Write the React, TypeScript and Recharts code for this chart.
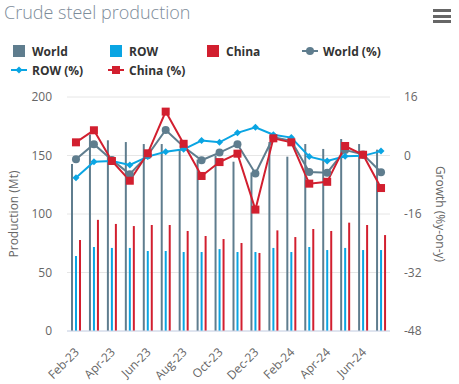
import { ComposedChart, Bar, Line, XAxis, YAxis, CartesianGrid } from "recharts";

const months = [
	"Feb-23", "Mar-23", "Apr-23", "May-23", "Jun-23", "Jul-23", "Aug-23", "Sep-23", "Oct-23",
	"Nov-23", "Dec-23", "Jan-24", "Feb-24", "Mar-24", "Apr-24", "May-24", "Jun-24", "Jul-24",
];
const world = [142.7, 168, 163, 161.5, 159.8, 159.8, 154.7, 146.5, 150, 144.7, 135.5, 161.5, 149, 159.8, 155.6, 164.1, 159.8, 155];
const row = [64, 71.8, 71, 71, 68.4, 68.4, 67.5, 67.5, 70, 67.5, 67.5, 71, 67.5, 71.8, 69.2, 71, 69.2, 69.2];
const china = [77.8, 95, 91.5, 89.7, 90.6, 90.6, 85.5, 81.2, 78.6, 75.2, 66.7, 86, 80.3, 87.2, 85.5, 92.6, 90.6, 82];
const worldPct = [-1, 3.1, -1.2, -5.1, 0.1, 7.0, 2.4, -1.3, 0.8, 3.1, -4.9, 5.0, 4.0, -4.5, -4.7, 1.5, 0.3, -4.6];
const rowPct = [-6.1, -1.7, -1.5, -2.6, -0.3, 1.0, 1.7, 4.1, 3.6, 6.2, 7.7, 5.7, 4.9, -0.3, -1.5, -0.2, -0.1, 1.2];
const chinaPct = [3.6, 6.9, -1.5, -6.9, 0.6, 12.0, 3.2, -5.6, -1.8, 0.5, -14.8, 4.7, 3.6, -7.7, -7.2, 2.6, 0.2, -8.9];

const leftTicks = [0, 50, 100, 150, 200];
const rightTicks = [-48, -32, -16, 0, 16];

const legendItems = [
	{ name: "World", color: "#5f7d8e", kind: "bar" },
	{ name: "ROW", color: "#0aa5e3", kind: "bar" },
	{ name: "China", color: "#d21f2f", kind: "bar" },
	{ name: "World (%)", color: "#5f7d8e", kind: "circle" },
	{ name: "ROW (%)", color: "#0aa5e3", kind: "diamond" },
	{ name: "China (%)", color: "#d21f2f", kind: "square" },
];

const data = months.map((m, i) => ({
	month: m,
	World: world[i],
	ROW: row[i],
	China: china[i],
	"World (%)": worldPct[i],
	"ROW (%)": rowPct[i],
	"China (%)": chinaPct[i],
}));

const FONT = "'Open Sans', 'DejaVu Sans', sans-serif";

const CircleDot = (props: any) => {
	const { cx, cy, index } = props;
	return <circle key={index} cx={cx} cy={cy} r={4} fill="#5f7d8e" />;
};
const DiamondDot = (props: any) => {
	const { cx, cy, index } = props;
	const r = 3.5;
	return (
		<path
			key={index}
			d={`M${cx},${cy - r}L${cx + r},${cy}L${cx},${cy + r}L${cx - r},${cy}Z`}
			fill="#0aa5e3"
		/>
	);
};
const SquareDot = (props: any) => {
	const { cx, cy, index } = props;
	return <rect key={index} x={cx - 4} y={cy - 4} width={8} height={8} fill="#d21f2f" />;
};

const MonthTick = (props: any) => {
	const { x, y, payload } = props;
	return (
		<g transform={`translate(${x + 1},${y + 11}) rotate(-45)`}>
			<text x={0} y={0} dy="0.35em" textAnchor="end" fill="#666" fontSize={12} fontFamily={FONT}>
				{payload.value}
			</text>
		</g>
	);
};

const LegendIcon = ({ kind, color }: { kind: string; color: string }) => {
	if (kind === "bar") {
		return <div style={{ width: 12, height: 12, background: color, marginLeft: 2, marginRight: 7 }} />;
	}
	return (
		<svg width={16} height={12} style={{ marginRight: 5 }}>
			<line x1={0} y1={6} x2={16} y2={6} stroke={color} strokeWidth={2} />
			{kind === "circle" && <circle cx={8} cy={6} r={4} fill={color} />}
			{kind === "diamond" && <path d="M8,2.5L11.5,6L8,9.5L4.5,6Z" fill={color} />}
			{kind === "square" && <rect x={4} y={2} width={8} height={8} fill={color} />}
		</svg>
	);
};

export default function App() {
	return (
		<div style={{ position: "absolute", left: 0, top: 0, width: 459, height: 384, fontFamily: FONT, background: "#fff" }}>
			<div
				style={{
					position: "absolute",
					left: 4,
					top: 0,
					fontSize: 18,
					lineHeight: "24px",
					fontWeight: 300,
					color: "#7d8c9a",
					whiteSpace: "nowrap",
				}}
			>
				Crude steel production
			</div>
			<div style={{ position: "absolute", left: 433, top: 9 }}>
				{[0, 1, 2].map((k) => (
					<div key={k} style={{ width: 18, height: 3, background: "#666", marginBottom: 2.5 }} />
				))}
			</div>
			{legendItems.map((it, i) => (
				<div
					key={it.name}
					style={{
						position: "absolute",
						left: 11 + (i % 4) * 97,
						top: 43 + Math.floor(i / 4) * 19,
						height: 16,
						display: "flex",
						alignItems: "center",
						fontSize: 12,
						fontWeight: 700,
						color: "#333",
						whiteSpace: "nowrap",
					}}
				>
					<LegendIcon kind={it.kind} color={it.color} />
					<span>{it.name}</span>
				</div>
			))}
			<ComposedChart
				width={459}
				height={384}
				data={data}
				margin={{ top: 97, right: 0, bottom: 0, left: 0 }}
				barSize={2}
				barGap={2}
			>
				<CartesianGrid vertical={false} stroke="#e6e6e6" yAxisId="left" />
				<XAxis
					dataKey="month"
					interval={1}
					tick={<MonthTick />}
					tickLine={false}
					axisLine={{ stroke: "#ccd6eb" }}
					height={53}
				/>
				<YAxis
					yAxisId="left"
					domain={[0, 200]}
					ticks={leftTicks}
					width={67}
					axisLine={false}
					tickLine={false}
					tickSize={0}
					tickMargin={15}
					tick={{ fill: "#666", fontSize: 12, fontFamily: FONT }}
					label={{
						value: "Production (Mt)",
						angle: -90,
						position: "insideLeft",
						offset: 14,
						style: { textAnchor: "middle", fill: "#666", fontSize: 12, fontFamily: FONT },
					}}
				/>
				<YAxis
					yAxisId="right"
					orientation="right"
					domain={[-48, 16]}
					ticks={rightTicks}
					width={69}
					axisLine={false}
					tickLine={false}
					tickSize={0}
					tickMargin={14}
					tick={{ fill: "#666", fontSize: 12, fontFamily: FONT, textAnchor: "start" }}
					label={{
						value: "Growth (%y-on-y)",
						angle: 90,
						position: "insideRight",
						offset: 19,
						style: { textAnchor: "middle", fill: "#666", fontSize: 12, fontFamily: FONT },
					}}
				/>
				<Bar yAxisId="left" dataKey="World" fill="#5f7d8e" isAnimationActive={false} />
				<Bar yAxisId="left" dataKey="ROW" fill="#0aa5e3" isAnimationActive={false} />
				<Bar yAxisId="left" dataKey="China" fill="#d21f2f" isAnimationActive={false} />
				<Line
					yAxisId="right"
					dataKey="World (%)"
					stroke="#5f7d8e"
					strokeWidth={2}
					dot={<CircleDot />}
					activeDot={false}
					isAnimationActive={false}
				/>
				<Line
					yAxisId="right"
					dataKey="ROW (%)"
					stroke="#0aa5e3"
					strokeWidth={2}
					dot={<DiamondDot />}
					activeDot={false}
					isAnimationActive={false}
				/>
				<Line
					yAxisId="right"
					dataKey="China (%)"
					stroke="#d21f2f"
					strokeWidth={2}
					dot={<SquareDot />}
					activeDot={false}
					isAnimationActive={false}
				/>
			</ComposedChart>
		</div>
	);
}
